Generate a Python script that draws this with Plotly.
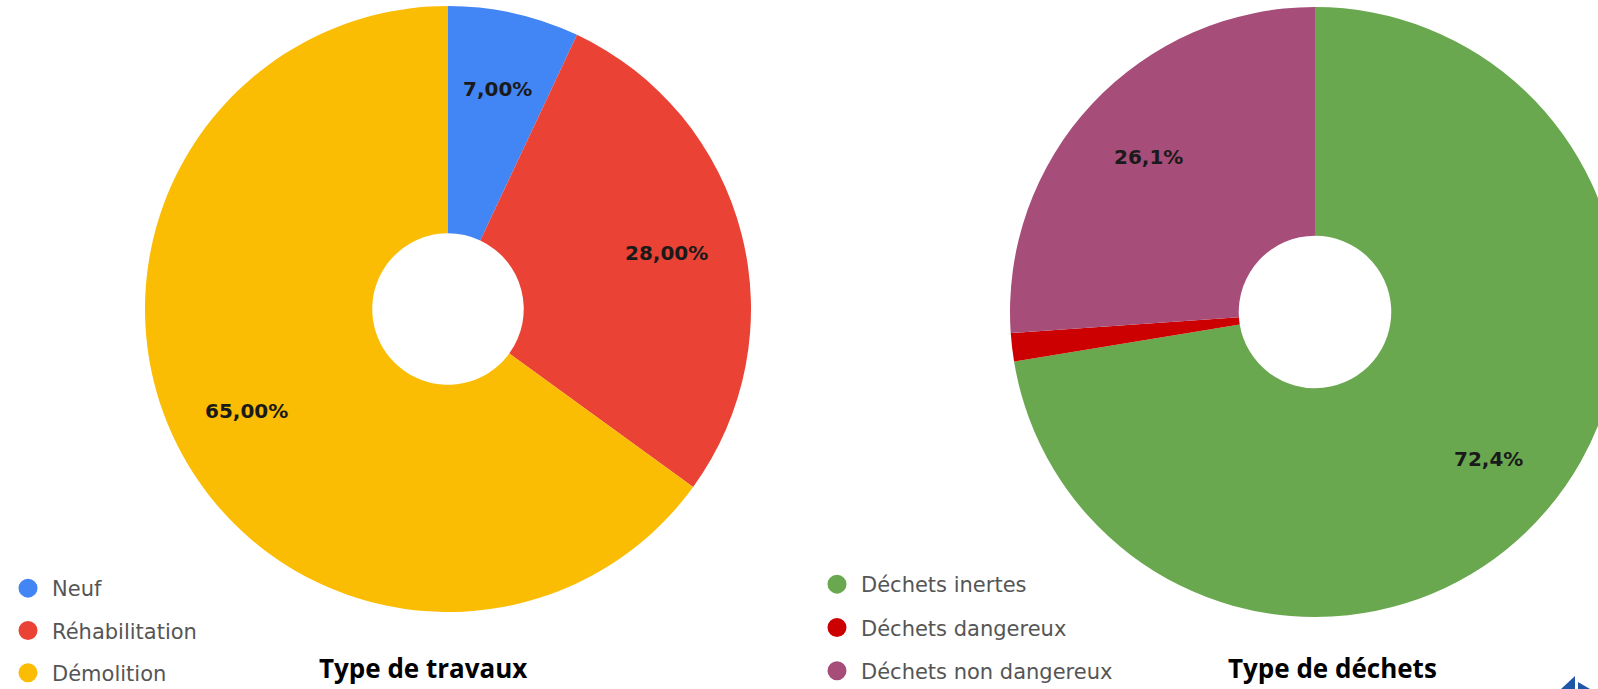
import math
import plotly.graph_objects as go

# ---- data ----
travaux_labels = ["Neuf", "Réhabilitation", "Démolition"]
travaux_values = [7.0, 28.0, 65.0]
travaux_colors = ["#4285F4", "#EA4335", "#FBBC04"]
travaux_decimals = 2

dechets_labels = ["Déchets inertes", "Déchets dangereux", "Déchets non dangereux"]
dechets_values = [72.4, 1.5, 26.1]
dechets_colors = ["#6AA84F", "#CC0000", "#A64D79"]
dechets_decimals = 1

titles = ["Type de travaux", "Type de déchets"]

W, H = 1640, 689
def px_x(p): return p / W
def px_y(p): return 1 - p / H

# pie geometry (pixels)
pies = [
    dict(cx=448, cy=309, r=303),
    dict(cx=1315, cy=312, r=305),
]
LABEL_R = 0.745
MIN_LABEL_SHARE = 0.05

fig = go.Figure()

for (labels, values, colors), g in zip(
        [(travaux_labels, travaux_values, travaux_colors),
         (dechets_labels, dechets_values, dechets_colors)], pies):
    fig.add_trace(go.Pie(
        labels=labels, values=values, sort=False, direction="clockwise",
        rotation=0, hole=0.25, marker=dict(colors=colors, line=dict(width=0)),
        textinfo="none", showlegend=False, hoverinfo="label+percent",
        domain=dict(x=[px_x(g["cx"] - g["r"]), px_x(g["cx"] + g["r"])],
                    y=[px_y(g["cy"] + g["r"]), px_y(g["cy"] - g["r"])]),
    ))

# percentage labels at slice mid-angles
annotations = []
for values, dec, g in [(travaux_values, travaux_decimals, pies[0]),
                       (dechets_values, dechets_decimals, pies[1])]:
    total = sum(values)
    cum = 0.0
    for v in values:
        share = v / total
        mid = (cum + share / 2) * 2 * math.pi
        cum += share
        if share < MIN_LABEL_SHARE:
            continue
        x = g["cx"] + LABEL_R * g["r"] * math.sin(mid)
        y = g["cy"] - LABEL_R * g["r"] * math.cos(mid)
        txt = ("{:.%df}%%" % dec).format(share * 100).replace(".", ",")
        annotations.append(dict(text="<b>%s</b>" % txt, x=px_x(x), y=px_y(y),
                                xref="paper", yref="paper", xanchor="center", yanchor="middle",
                                showarrow=False,
                                font=dict(family="DejaVu Sans", size=20, color="#1a1a1a")))

# titles
for t, xc in zip(titles, [423, 1332]):
    annotations.append(dict(text="<b>%s</b>" % t, x=px_x(xc), y=px_y(668), xref="paper", yref="paper",
                            xanchor="center", yanchor="middle", showarrow=False,
                            font=dict(family="Open Sans", size=26, color="#000000")))

# legend-only circle markers
for i, (lab, col) in enumerate(zip(travaux_labels, travaux_colors)):
    fig.add_trace(go.Scatter(x=[None], y=[None], mode="markers", name=lab,
                             marker=dict(color=col, size=16, symbol="circle",
                                         line=dict(color=col, width=3)),
                             legend="legend", legendgroup="t%d" % i))
for i, (lab, col) in enumerate(zip(dechets_labels, dechets_colors)):
    fig.add_trace(go.Scatter(x=[None], y=[None], mode="markers", name=lab,
                             marker=dict(color=col, size=16, symbol="circle",
                                         line=dict(color=col, width=3)),
                             legend="legend2", legendgroup="d%d" % i))

legend_font = dict(family="DejaVu Sans", size=21, color="#555555")
fig.update_layout(
    width=W, height=H, margin=dict(l=0, r=0, t=0, b=0, autoexpand=False),
    paper_bgcolor="white", plot_bgcolor="white",
    xaxis=dict(visible=False), yaxis=dict(visible=False),
    legend=dict(x=px_x(4), y=px_y(568), xanchor="left", yanchor="top",
                font=legend_font, itemwidth=38, tracegroupgap=12, itemsizing="trace",
                bgcolor="rgba(0,0,0,0)"),
    legend2=dict(x=px_x(813), y=px_y(564), xanchor="left", yanchor="top",
                 font=legend_font, itemwidth=38, tracegroupgap=13, itemsizing="trace",
                 bgcolor="rgba(0,0,0,0)"),
    annotations=annotations,
    shapes=[
        dict(type="path", xref="paper", yref="paper", line=dict(width=0), fillcolor="#1F56A8",
             path="M %f %f L %f %f L %f %f Z" % (px_x(1561), px_y(689), px_x(1575), px_y(676),
                                                px_x(1575), px_y(689))),
        dict(type="path", xref="paper", yref="paper", line=dict(width=0), fillcolor="#1F56A8",
             path="M %f %f L %f %f L %f %f Z" % (px_x(1578), px_y(682), px_x(1590), px_y(689),
                                                px_x(1578), px_y(689))),
    ],
)

fig.write_html("out.html", config={"displayModeBar": False},
               post_script="document.body.style.margin='0';document.body.style.overflow='hidden';document.documentElement.style.overflow='hidden';")
